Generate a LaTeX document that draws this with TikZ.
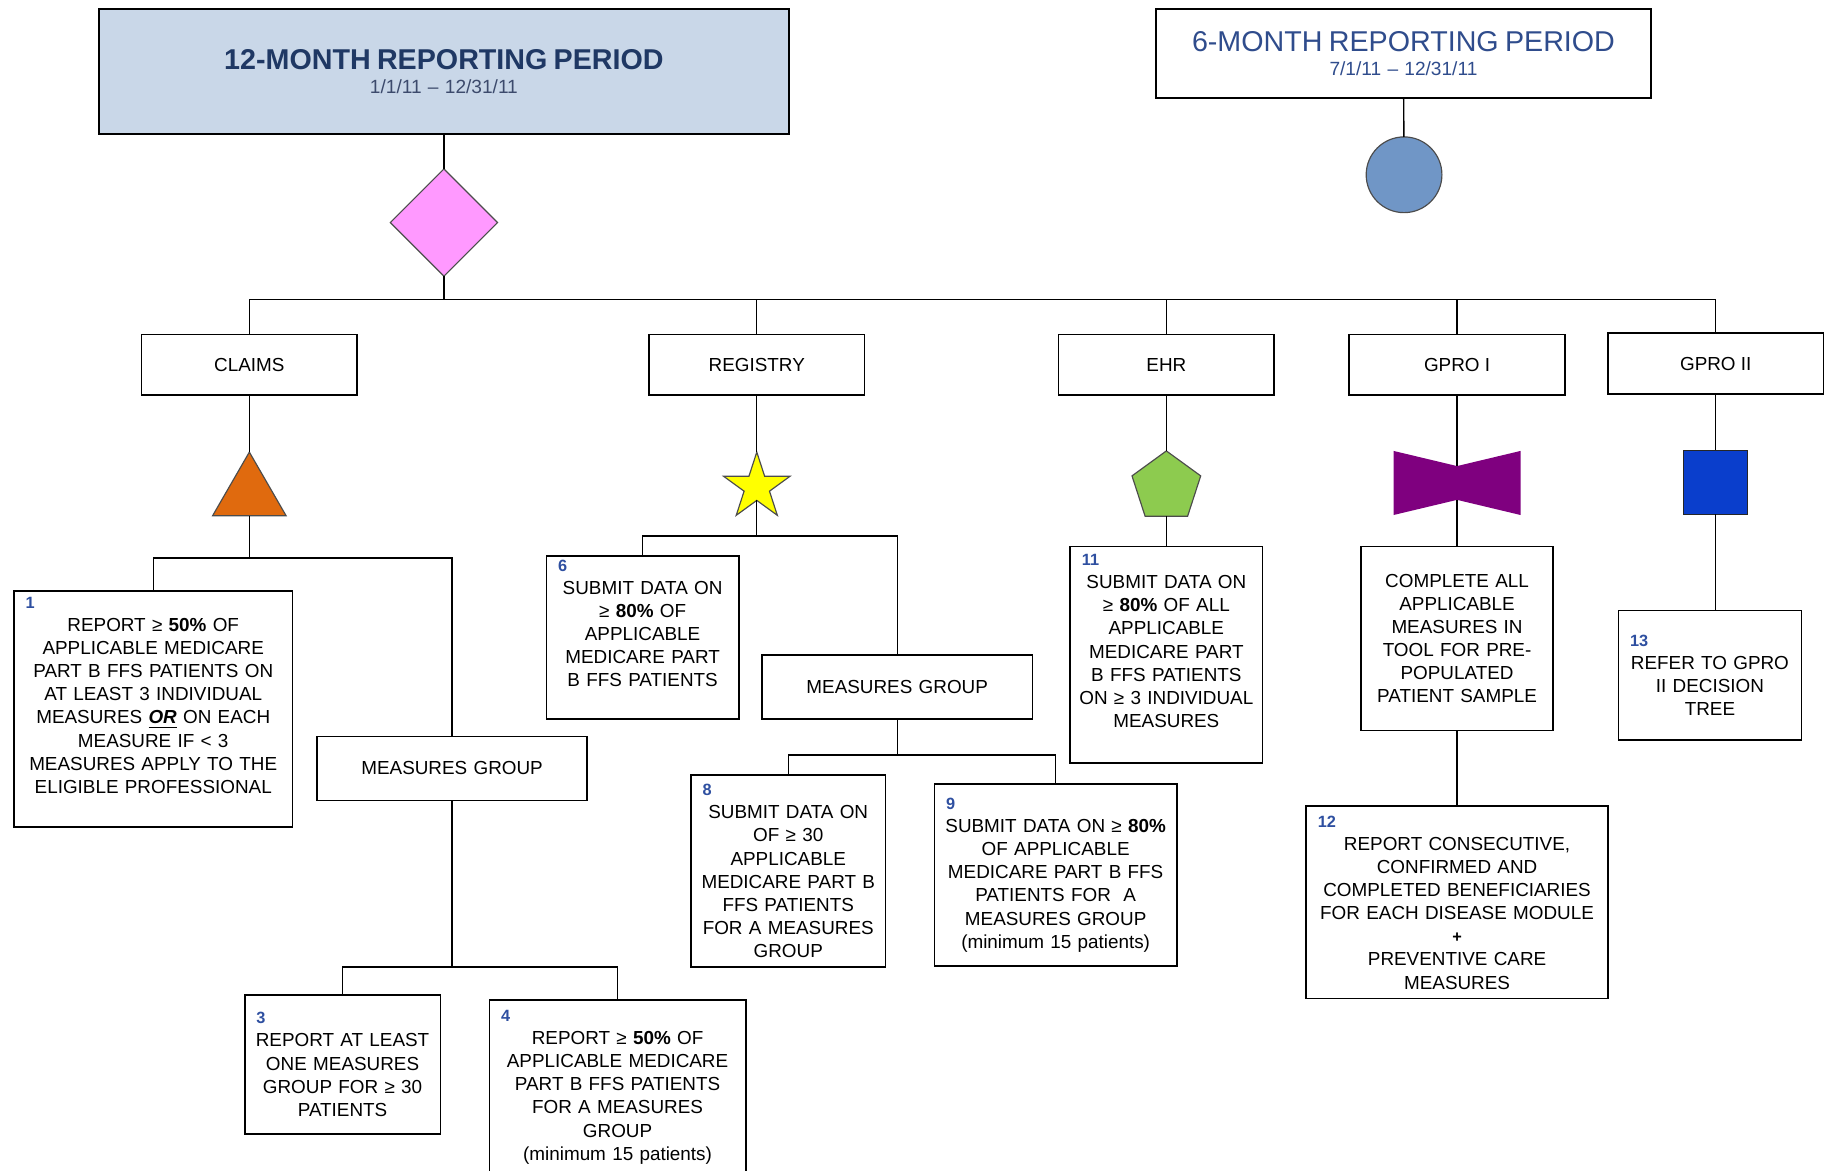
\documentclass[tikz,border=0pt]{standalone}
\usepackage{fontspec}
\setmainfont{Liberation Sans}
\usetikzlibrary{shapes.geometric,positioning}
\definecolor{hdrfill}{HTML}{C9D7E8}
\definecolor{navy}{HTML}{1F3864}
\definecolor{datecol}{HTML}{3C4A6C}
\definecolor{sixblue}{HTML}{2F4C8C}
\definecolor{tagblue}{HTML}{2E4FA0}
\definecolor{pinkfill}{HTML}{FF99FF}
\definecolor{circfill}{HTML}{7096C6}
\definecolor{orangefill}{HTML}{E06A0E}
\definecolor{starfill}{HTML}{FFFF00}
\definecolor{greenfill}{HTML}{8DCB4F}
\definecolor{bowfill}{HTML}{7F007F}
\definecolor{sqfill}{HTML}{0A3ECC}
\newcommand{\titlefont}{\fontsize{12.3}{14}\selectfont}
\newcommand{\datefont}{\fontsize{8.2}{11}\selectfont}
\newcommand{\tagno}[1]{\makebox[\linewidth][l]{\hspace*{3pt}\color{tagblue}\fontsize{7}{9.93}\selectfont\bfseries #1}}

\begin{document}
\begin{tikzpicture}[x=0.5pt, y=-0.5pt,
  every node/.style={font=\fontsize{8.1}{9.93}\selectfont},
  catbox/.style={rectangle, draw, line width=0.7pt, minimum width=92.5pt, minimum height=26pt},
  stepbox/.style 2 args={rectangle, draw, line width=0.7pt, align=center, inner xsep=2pt, inner ysep=1pt, minimum width=#1, text width=#1-4pt, minimum height=#2},
  shp/.style={draw=black!70, line width=0.5pt, inner sep=0pt, outer sep=0pt},
  wire/.style={line width=0.6pt}]
  \useasboundingbox (0,0) rectangle (1568,1005);

  \node (p12) [rectangle, draw, line width=0.7pt, fill=hdrfill, minimum width=296pt, minimum height=53.5pt, text width=288pt, align=center] at (381,61.5) {\titlefont\bfseries\color{navy}12-MONTH REPORTING PERIOD\\\datefont\mdseries\color{datecol}1/1/11 – 12/31/11};
  \node (p6) [rectangle, draw, line width=0.7pt, minimum width=212.5pt, minimum height=38pt, text width=204pt, align=center] at (1204.5,46) {\titlefont\color{sixblue}6-MONTH REPORTING PERIOD\\\datefont 7/1/11 – 12/31/11};

  \node (dia) [diamond, shp, fill=pinkfill, minimum width=46pt, minimum height=46pt] at (381,191) {};
  \node (circ) [circle, shp, fill=circfill, minimum size=32.5pt] at (1205,150) {};

  \node (claims) [catbox] at (214,313) {CLAIMS};
  \node (registry) [catbox] at (649.5,313) {REGISTRY};
  \node (ehr) [catbox] at (1001,313) {EHR};
  \node (gproa) [catbox] at (1250.5,313) {GPRO I};
  \node (gprob) [catbox] at (1472.5,312) {GPRO II};

  \node (clmtri) [regular polygon, regular polygon sides=3, shp, fill=orangefill, minimum size=36.4pt] at (214,424.4) {};
  \node (regstar) [star, star points=5, star point ratio=2.618, shp, fill=starfill, minimum size=30pt] at (649.5,418) {};
  \node (ehrpent) [regular polygon, regular polygon sides=5, shp, fill=greenfill, minimum size=31pt] at (1001,418) {};
  \coordinate (bowtop) at (1250.5,400);
  \coordinate (bowbot) at (1250.5,429);
  \fill[bowfill] (1196,387) -- (bowtop) -- (1305,387) -- (1305,442) -- (bowbot) -- (1196,442) -- cycle;
  \node (gsq) [rectangle, shp, draw=black!85, fill=sqfill, minimum size=27.5pt] at (1472.5,414) {};

  \node (b1) [stepbox={119.5pt}{101.5pt}] at (131.5,608.5) {\tagno{1}\\REPORT ≥ \textbf{50\%} OF\\APPLICABLE MEDICARE\\PART B FFS PATIENTS ON\\AT LEAST 3 INDIVIDUAL\\MEASURES \underline{\textbf{\textit{OR}}} ON EACH\\MEASURE IF < 3\\MEASURES APPLY TO THE\\ELIGIBLE PROFESSIONAL\\[2pt]\mbox{}};
  \node (mg1) [stepbox={116pt}{27.5pt}] at (388,659.5) {MEASURES GROUP};
  \node (b3) [stepbox={84pt}{59.5pt}] at (294,913.5) {\tagno{3}\\REPORT AT LEAST\\ONE MEASURES\\GROUP FOR ≥ 30\\PATIENTS};
  \node (b4) [stepbox={110pt}{75pt}] at (530,933) {\tagno{4}\\REPORT ≥ \textbf{50\%} OF\\APPLICABLE MEDICARE\\PART B FFS PATIENTS\\FOR A MEASURES\\GROUP\\(minimum 15 patients)};

  \node (b6) [stepbox={82.5pt}{70pt}] at (551.5,547) {\tagno{6}\\SUBMIT DATA ON\\≥ \textbf{80\%} OF\\APPLICABLE\\MEDICARE PART\\B FFS PATIENTS\\[2pt]\mbox{}};
  \node (mg2) [stepbox={116pt}{27.5pt}] at (770,589.5) {MEASURES GROUP};
  \node (b8) [stepbox={83.5pt}{82.5pt}] at (676.5,747.5) {\tagno{8}\\SUBMIT DATA ON\\OF ≥ 30\\APPLICABLE\\MEDICARE PART B\\FFS PATIENTS\\FOR A MEASURES\\GROUP};
  \node (b9) [stepbox={104pt}{78pt}] at (906,751) {\tagno{9}\\SUBMIT DATA ON ≥ \textbf{80\%}\\OF APPLICABLE\\MEDICARE PART B FFS\\PATIENTS FOR\ \ A\\MEASURES GROUP\\(minimum 15 patients)};

  \node (b11) [stepbox={82.5pt}{93pt}] at (1001,562) {\tagno{11}\\SUBMIT DATA ON\\≥ \textbf{80\%} OF ALL\\APPLICABLE\\MEDICARE PART\\B FFS PATIENTS\\ON ≥ 3 INDIVIDUAL\\MEASURES\\[2pt]\mbox{}};
  \node (gbox) [stepbox={82.5pt}{79pt}] at (1250.5,548) {COMPLETE ALL\\APPLICABLE\\MEASURES IN\\TOOL FOR PRE-\\POPULATED\\PATIENT SAMPLE};
  \node (b12) [stepbox={129.5pt}{82.5pt}] at (1250.5,774.5) {\tagno{12}\\REPORT CONSECUTIVE,\\CONFIRMED AND\\COMPLETED BENEFICIARIES\\FOR EACH DISEASE MODULE\\{\fontsize{7}{9.93}\selectfont\bfseries +}\\PREVENTIVE CARE\\MEASURES};
  \node (b13) [stepbox={78.5pt}{55.5pt}] at (1467.5,579.5) {\tagno{13}\\REFER TO GPRO\\II DECISION\\TREE};

  \coordinate (bus) at (381,257);
  \draw[wire] (p12) -- (dia);
  \draw[wire] (p6) -- (circ);
  \draw[wire] (dia) -- (bus);
  \foreach \n in {claims,registry,ehr,gproa,gprob}
    \draw[wire] (bus) -| (\n);

  \coordinate (cbus) at (214,479);
  \draw[wire] (claims) -- (clmtri);
  \draw[wire] (clmtri) -- (cbus);
  \draw[wire] (cbus) -| (b1);
  \draw[wire] (cbus) -| (mg1);
  \coordinate (mbusa) at (388,830);
  \draw[wire] (mg1) -- (mbusa);
  \draw[wire] (mbusa) -| (b3);
  \draw[wire] (mbusa) -| (b4);

  \coordinate (rbus) at (649.5,460);
  \draw[wire] (registry) -- (regstar);
  \draw[wire] (regstar) -- (rbus);
  \draw[wire] (rbus) -| (b6);
  \draw[wire] (rbus) -| (mg2);
  \coordinate (mbusb) at (770,648);
  \draw[wire] (mg2) -- (mbusb);
  \draw[wire] (mbusb) -| (b8);
  \draw[wire] (mbusb) -| (b9);

  \draw[wire] (ehr) -- (ehrpent);
  \draw[wire] (ehrpent) -- (b11);

  \draw[wire] (gproa) -- (bowtop);
  \draw[wire] (bowbot) -- (gbox);
  \draw[wire] (gbox) -- (b12);

  \draw[wire] (gprob) -- (gsq);
  \draw[wire] (gsq) -- (gsq |- b13.north);
\end{tikzpicture}
\end{document}
